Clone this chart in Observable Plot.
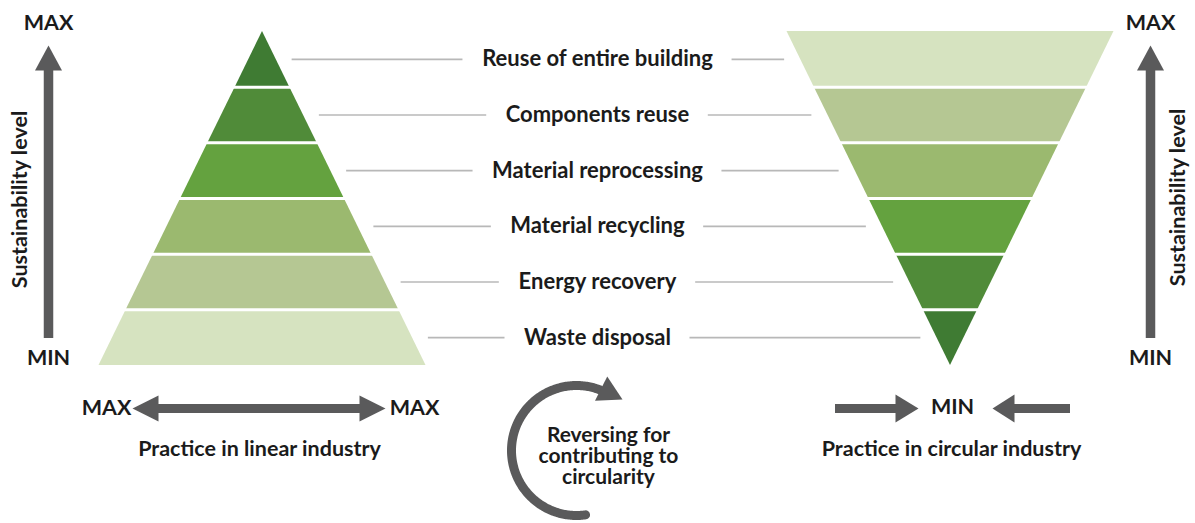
<!DOCTYPE html>
<html>
<head>
<meta charset="utf-8">
<script src="https://cdn.jsdelivr.net/npm/d3@7"></script>
<script src="https://cdn.jsdelivr.net/npm/@observablehq/plot@0.6"></script>
<style>
  html, body { margin: 0; padding: 0; background: #ffffff; }
  #chart { width: 1195px; height: 523px; overflow: hidden; }
</style>
</head>
<body>
<div id="chart"></div>
<script>
// ================= DATA =================
// waste hierarchy levels, from lowest to highest sustainability
const levels = [
  "Waste disposal",
  "Energy recovery",
  "Material recycling",
  "Material reprocessing",
  "Components reuse",
  "Reuse of entire building"
];
// band shades, lightest → darkest
const shades = ["#d6e3c0", "#b5c793", "#9bb96f", "#64a23f", "#508b39", "#3f7b33"];
const axisLabel = "Sustainability level";
const maxText = "MAX";
const minText = "MIN";
const linearCaption = "Practice in linear industry";
const circularCaption = "Practice in circular industry";
const reversingNote = ["Reversing for", "contributing to", "circularity"];

// ================= LAYOUT =================
const W = 1195, H = 523;
const n = levels.length;
const yBase = 365, yTop = 31;           // pixel rows of level 0 and level n
const lin = {cx: 262, half: 163.5};     // linear pyramid (apex up)
const circ = {cx: 950, half: 163.5};    // circular pyramid (apex down)
const labelX = 597;
const FONT = "Lato, 'Open Sans', sans-serif";
const labelSize = 22, labelWeight = 700;
const ink = "#1b1b1b", arrowGrey = "#5a5a5b", leaderGrey = "#b8b8b8";

// pixel row → level units (the Plot y scale is in levels)
const py = p => (yBase - p) / (yBase - yTop) * n;
const linHalf = v => lin.half * (n - v) / n;
const circHalf = v => circ.half * v / n;

// text width measurement for leader lines
const ctx = document.createElement("canvas").getContext("2d");
ctx.font = `${labelWeight} ${labelSize}px ${FONT}`;
const tw = s => ctx.measureText(s).width;

// ---------- pyramid bands ----------
const linBands = levels.flatMap((name, i) => [i, i + 1].map(v => ({
  name, v, x1: lin.cx - linHalf(v), x2: lin.cx + linHalf(v), fill: shades[i]
})));
const circBands = levels.flatMap((name, i) => [i, i + 1].map(v => ({
  name, v, x1: circ.cx - circHalf(v), x2: circ.cx + circHalf(v), fill: shades[n - 1 - i]
})));
const seps = d3.range(1, n);

// ---------- leader lines ----------
const gapShape = 16, gapText = 19;
const leaders = levels.flatMap((name, i) => {
  const v = i + 0.5, w = tw(name);
  return [
    {v, x1: lin.cx + linHalf(v) + gapShape, x2: labelX - w / 2 - gapText},
    {v, x1: labelX + w / 2 + gapText, x2: circ.cx - circHalf(v) - gapShape}
  ];
});

// ---------- arrows (pixel geometry) ----------
function head(id, tx, ty, angDeg, len, wid) {
  const a = angDeg * Math.PI / 180;
  const ux = Math.cos(a), uy = Math.sin(a);
  const bx = tx - ux * len, by = ty - uy * len;
  const nx = -uy, ny = ux;
  return [
    {id, x: tx, y: py(ty)},
    {id, x: bx + nx * wid / 2, y: py(by + ny * wid / 2)},
    {id, x: bx - nx * wid / 2, y: py(by - ny * wid / 2)}
  ];
}
const vArrows = [{x: 48, y1: 338, y2: 69}, {x: 1150, y1: 338, y2: 69}];
const hShafts = [
  {x1: 156, x2: 364, y: 408},
  {x1: 835, x2: 897, y: 408},
  {x1: 1012, x2: 1070, y: 408}
];
const arc = {cx: 576, cy: 450, r: 65, a0: 82, a1: 291};
const arcPts = d3.range(arc.a0, arc.a1 + 0.01, 1).map(a => ({
  x: arc.cx + arc.r * Math.cos(a * Math.PI / 180),
  y: py(arc.cy + arc.r * Math.sin(a * Math.PI / 180))
}));
const heads = [
  ...head("lu", 48, 45, -90, 25, 27),
  ...head("ru", 1150, 45, -90, 25, 27),
  ...head("ll", 132, 408, 180, 26, 26),
  ...head("lr", 385, 408, 0, 26, 26),
  ...head("cr", 918, 408, 0, 23, 28),
  ...head("cl", 992, 408, 180, 22, 28),
  ...head("arc", 622, 399, 27, 24, 27)
];

// ---------- free texts ----------
const texts = [
  {x: 48, y: 23, t: maxText}, {x: 48, y: 358, t: minText},
  {x: 1150, y: 23, t: maxText}, {x: 1150, y: 358, t: minText},
  {x: 106, y: 408, t: maxText}, {x: 414, y: 408, t: maxText},
  {x: 952, y: 407, t: minText},
  {x: 259, y: 449, t: linearCaption},
  {x: 951, y: 449, t: circularCaption}
];
const noteText = [{x: 608, y: 456, t: reversingNote.join("\n")}];
const vTexts = [{x: 20, y: 199, t: axisLabel}, {x: 1178, y: 197, t: axisLabel}];

const chart = Plot.plot({
  width: W, height: H, margin: 0,
  x: {domain: [0, W], range: [0, W], axis: null},
  y: {domain: [0, n], range: [yBase, yTop], axis: null},
  color: {type: "identity"},
  style: {fontFamily: FONT, background: "#ffffff", overflow: "visible"},
  marks: [
    Plot.areaX(linBands, {y: "v", x1: "x1", x2: "x2", z: "name", fill: "fill"}),
    Plot.areaX(circBands, {y: "v", x1: "x1", x2: "x2", z: "name", fill: "fill"}),
    Plot.ruleY(seps, {y: d => d, x1: d => lin.cx - linHalf(d) - 2, x2: d => lin.cx + linHalf(d) + 2, stroke: "#ffffff", strokeWidth: 3}),
    Plot.ruleY(seps, {y: d => d, x1: d => circ.cx - circHalf(d) - 2, x2: d => circ.cx + circHalf(d) + 2, stroke: "#ffffff", strokeWidth: 3}),
    Plot.ruleY(leaders, {y: "v", x1: "x1", x2: "x2", stroke: leaderGrey, strokeWidth: 1.6}),
    Plot.text(levels, {x: () => labelX, y: (d, i) => i + 0.5, text: d => d, fontSize: labelSize, fontWeight: labelWeight, fill: ink}),
    // arrows
    Plot.ruleX(vArrows, {x: "x", y1: d => py(d.y1), y2: d => py(d.y2), stroke: arrowGrey, strokeWidth: 9.5}),
    Plot.ruleY(hShafts, {y: d => py(d.y), x1: "x1", x2: "x2", stroke: arrowGrey, strokeWidth: 9}),
    Plot.line(arcPts, {x: "x", y: "y", stroke: arrowGrey, strokeWidth: 9, curve: "linear"}),
    Plot.line(heads, {x: "x", y: "y", z: "id", fill: arrowGrey, stroke: "none"}),
    // texts
    Plot.text(texts, {x: "x", y: d => py(d.y), text: "t", fontSize: 21.5, fontWeight: 700, fill: ink}),
    Plot.text(noteText, {x: "x", y: d => py(d.y), text: "t", fontSize: 21, fontWeight: 700, fill: ink, lineHeight: 1.0}),
    Plot.text(vTexts, {x: "x", y: d => py(d.y), text: "t", rotate: -90, fontSize: 21.5, fontWeight: 700, fill: ink})
  ]
});
document.getElementById("chart").appendChild(chart);
</script>
</body>
</html>
